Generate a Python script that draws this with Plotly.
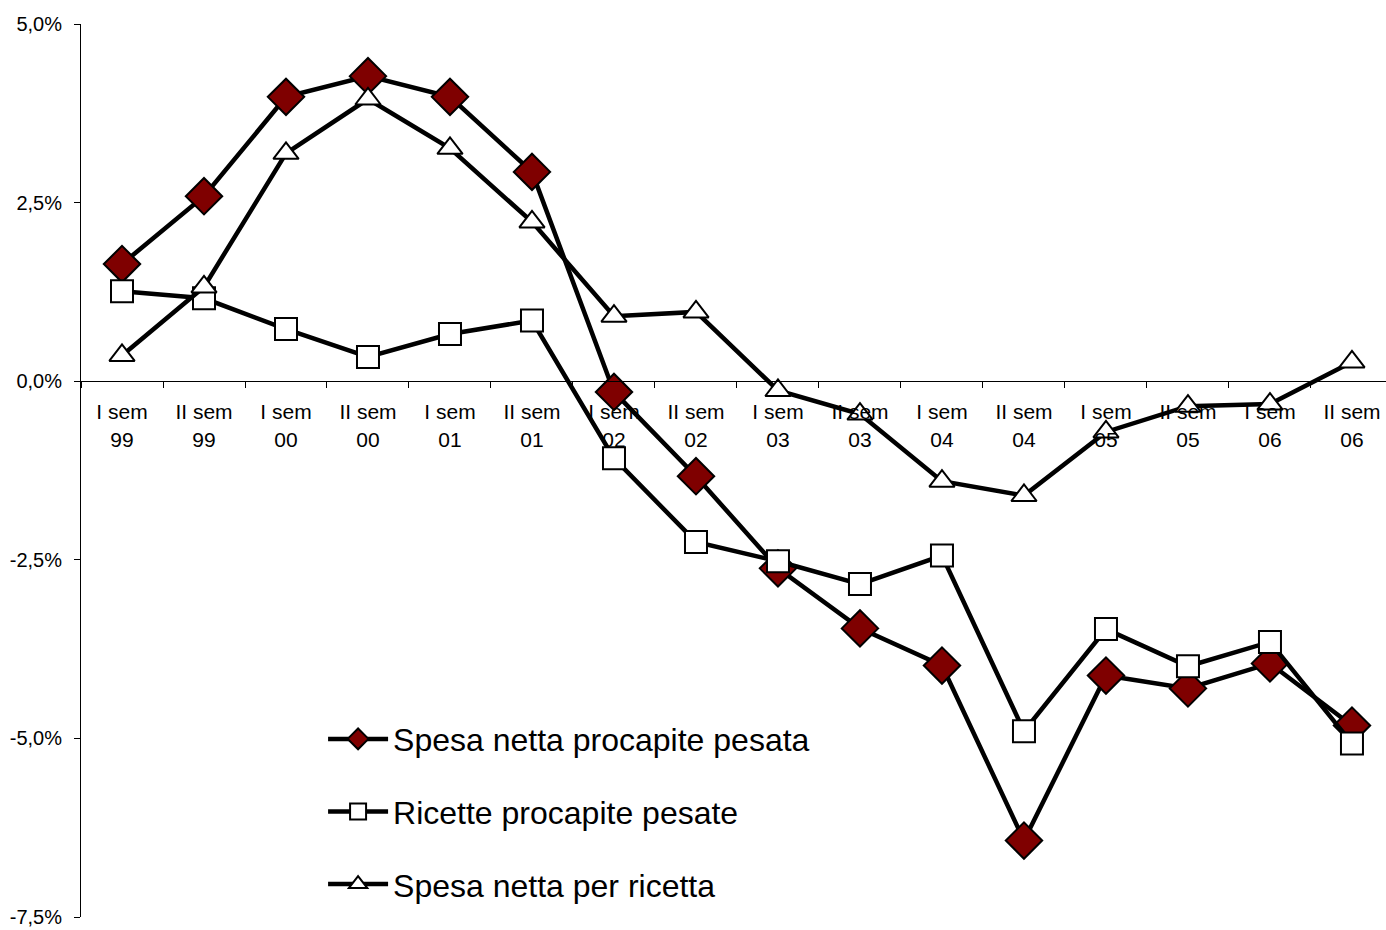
import plotly.graph_objects as go

categories = ["I sem<br>99", "II sem<br>99", "I sem<br>00", "II sem<br>00", "I sem<br>01", "II sem<br>01",
              "I sem<br>02", "II sem<br>02", "I sem<br>03", "II sem<br>03", "I sem<br>04", "II sem<br>04",
              "I sem<br>05", "II sem<br>05", "I sem<br>06", "II sem<br>06"]

spesa_procapite = [1.64, 2.59, 3.98, 4.27, 3.98, 2.93, -0.15, -1.33, -2.62, -3.46, -3.98, -6.43,
                   -4.12, -4.30, -3.95, -4.82]
ricette_procapite = [1.26, 1.16, 0.73, 0.34, 0.66, 0.85, -1.08, -2.25, -2.52, -2.84, -2.44, -4.90,
                     -3.47, -3.99, -3.65, -5.07]
spesa_ricetta = [0.36, 1.32, 3.19, 3.95, 3.26, 2.23, 0.91, 0.97, -0.13, -0.46, -1.40, -1.60,
                 -0.71, -0.35, -0.32, 0.27]

y_ticks = [-7.5, -5.0, -2.5, 0.0, 2.5, 5.0]
y_labels = ["-7,5%", "-5,0%", "-2,5%", "0,0%", "2,5%", "5,0%"]

FONT = "Liberation Sans, Arial, sans-serif"

fig = go.Figure()
fig.add_trace(go.Scatter(
    x=categories, y=spesa_procapite, name="Spesa netta procapite pesata",
    mode="lines+markers", legendgroup="a",
    line=dict(color="black", width=4.5),
    marker=dict(symbol="diamond", size=28, color="#7f0000", line=dict(color="black", width=2)),
))
fig.add_trace(go.Scatter(
    x=categories, y=ricette_procapite, name="Ricette procapite pesate",
    mode="lines+markers", legendgroup="b",
    line=dict(color="black", width=4.5),
    marker=dict(symbol="square", size=22, color="white", line=dict(color="black", width=2)),
))
fig.add_trace(go.Scatter(
    x=categories, y=spesa_ricetta, name="Spesa netta per ricetta",
    mode="lines+markers", legendgroup="c",
    line=dict(color="black", width=4.5),
    marker=dict(symbol="triangle-up", size=22, color="white", line=dict(color="black", width=2)),
))

fig.update_layout(
    width=1386, height=930,
    margin=dict(l=81, r=0, t=24, b=13),
    paper_bgcolor="white", plot_bgcolor="white",
    font=dict(family=FONT, color="black", size=20),
    legend=dict(x=0.1855, y=0.23, xanchor="left", yanchor="top",
                font=dict(size=32), tracegroupgap=28, itemwidth=60,
                bgcolor="rgba(0,0,0,0)"),
)
fig.update_xaxes(
    type="category", range=[-0.5, 15.415],
    anchor="free", position=0.6, automargin=False,
    showline=True, linecolor="black", linewidth=1,
    ticks="outside", tickson="boundaries", ticklen=6, tickcolor="black",
    ticklabelstandoff=12,
    showgrid=False, zeroline=False,
    tickfont=dict(size=21),
)
fig.update_yaxes(
    range=[-7.5, 5.0], tickvals=y_ticks, ticktext=y_labels, automargin=False,
    showline=True, linecolor="black", linewidth=1,
    ticks="outside", ticklen=6, tickcolor="black",
    ticklabelstandoff=8,
    showgrid=False, zeroline=False,
    tickfont=dict(size=20),
)

# drop the default page margin so the figure fills the window exactly
fig.write_html(
    "out.html",
    config={"displayModeBar": False},
    post_script="document.body.style.margin='0';document.body.style.overflow='hidden';",
)
